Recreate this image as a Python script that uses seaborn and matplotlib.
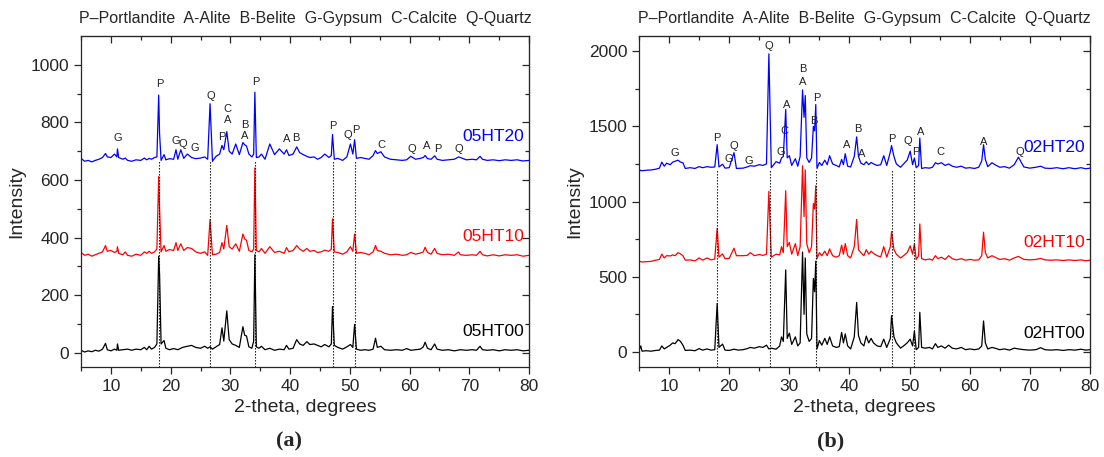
import matplotlib
matplotlib.use('Agg')
import matplotlib.pyplot as plt
import pandas as pd
import seaborn as sns

# XRD patterns: (2-theta, intensity) vertices of each trace
# Panel (a): 05 samples
a_ht00 = [(5.0, 8), (5.6, 2), (6.2, 6), (6.8, 3), (7.4, 8), (8.0, 5), (8.6, 12), (9.1, 32), (9.4, 10), (10.0, 6),
          (10.6, 12), (11.0, 8), (11.1, 30), (11.3, 8), (12.0, 10), (12.8, 12), (13.5, 8), (14.2, 12), (15.0, 10),
          (15.6, 18), (16.0, 10), (16.4, 22), (16.8, 12), (17.3, 18), (17.7, 30), (18.0, 335), (18.15, 270),
          (18.4, 30), (18.9, 42), (19.2, 15), (19.8, 10), (20.5, 14), (21.2, 10), (22.0, 18), (22.8, 22), (23.5, 25),
          (24.2, 18), (25.0, 15), (25.7, 22), (26.2, 15), (26.6, 20), (27.0, 12), (27.6, 20), (28.2, 28), (28.6, 86),
          (28.9, 40), (29.4, 145), (29.8, 45), (30.3, 30), (30.9, 25), (31.5, 18), (32.1, 90), (32.4, 60), (32.7, 58),
          (33.1, 20), (33.6, 15), (33.9, 40), (34.1, 340), (34.35, 20), (34.8, 15), (35.2, 22), (35.8, 10),
          (36.6, 15), (37.4, 8), (38.2, 12), (39.0, 10), (39.4, 25), (39.8, 12), (40.5, 15), (41.1, 45), (41.6, 30),
          (42.2, 25), (42.8, 38), (43.3, 28), (44.0, 30), (44.6, 25), (45.2, 20), (45.8, 28), (46.5, 20), (46.9, 30),
          (47.1, 160), (47.4, 25), (48.0, 18), (48.8, 12), (49.5, 20), (50.1, 28), (50.5, 18), (50.8, 98), (51.1, 12),
          (51.8, 8), (52.5, 10), (53.2, 8), (53.9, 12), (54.3, 50), (54.6, 18), (55.2, 22), (55.8, 10), (56.8, 8),
          (57.8, 10), (58.8, 8), (59.5, 14), (60.2, 8), (61.0, 10), (61.8, 12), (62.3, 20), (62.6, 36), (63.0, 15),
          (63.6, 10), (64.2, 30), (64.6, 12), (65.5, 8), (66.5, 10), (67.5, 6), (68.5, 10), (69.5, 8), (70.5, 10),
          (71.2, 8), (71.8, 22), (72.2, 10), (73.0, 8), (74.0, 10), (75.0, 6), (76.0, 10), (77.0, 8), (78.0, 10),
          (79.0, 6), (80.0, 8)]
a_ht10 = [(5.0, 348), (5.6, 338), (6.2, 342), (6.8, 335), (7.4, 340), (8.0, 345), (8.6, 350), (9.1, 372), (9.4, 352),
          (10.0, 355), (10.6, 348), (11.0, 352), (11.1, 368), (11.3, 345), (12.0, 340), (12.4, 350), (12.8, 338),
          (13.5, 335), (14.2, 342), (15.0, 338), (15.6, 350), (16.0, 345), (16.4, 352), (16.8, 345), (17.3, 350),
          (17.7, 360), (18.0, 612), (18.15, 500), (18.4, 350), (18.9, 372), (19.2, 352), (19.8, 358), (20.5, 355),
          (20.9, 382), (21.2, 355), (21.7, 378), (22.2, 355), (22.8, 365), (23.5, 362), (24.2, 350), (25.0, 345),
          (25.7, 350), (26.2, 338), (26.6, 462), (27.0, 340), (27.6, 342), (28.2, 348), (28.6, 382), (28.9, 360),
          (29.4, 442), (29.8, 368), (30.3, 360), (30.9, 378), (31.5, 352), (32.1, 412), (32.4, 395), (32.7, 390),
          (33.1, 355), (33.6, 350), (33.9, 360), (34.1, 642), (34.35, 355), (34.8, 350), (35.2, 362), (35.8, 345),
          (36.6, 368), (37.4, 348), (38.2, 352), (39.0, 345), (39.4, 365), (39.8, 350), (40.5, 355), (41.1, 372),
          (41.6, 360), (42.2, 352), (42.8, 362), (43.3, 352), (44.0, 355), (44.6, 348), (45.2, 350), (45.8, 356),
          (46.5, 352), (46.9, 360), (47.1, 465), (47.4, 350), (48.0, 348), (48.8, 342), (49.5, 350), (50.1, 368),
          (50.5, 352), (50.8, 412), (51.1, 345), (51.8, 348), (52.5, 345), (53.2, 340), (53.9, 350), (54.3, 372),
          (54.6, 355), (55.2, 352), (55.8, 345), (56.8, 340), (57.8, 342), (58.8, 338), (59.5, 340), (60.2, 348),
          (61.0, 342), (61.8, 346), (62.3, 350), (62.6, 366), (63.0, 348), (63.6, 342), (64.2, 362), (64.6, 345),
          (65.5, 340), (66.5, 342), (67.5, 338), (68.2, 350), (68.5, 340), (69.5, 338), (70.5, 340), (71.2, 338),
          (71.8, 352), (72.2, 340), (73.0, 336), (74.0, 340), (75.0, 336), (76.0, 340), (77.0, 338), (78.0, 340),
          (79.0, 335), (80.0, 338)]
a_ht20 = [(5.0, 675), (5.6, 665), (6.2, 668), (6.8, 663), (7.4, 668), (8.0, 672), (8.6, 678), (9.1, 692), (9.4, 680),
          (10.0, 678), (10.6, 690), (11.0, 680), (11.1, 708), (11.3, 678), (12.0, 672), (12.4, 676), (12.8, 668),
          (13.5, 665), (14.2, 670), (15.0, 668), (15.6, 676), (16.0, 670), (16.4, 675), (16.8, 672), (17.3, 678),
          (17.7, 680), (18.0, 895), (18.15, 760), (18.4, 668), (18.9, 688), (19.2, 670), (19.8, 674), (20.5, 672),
          (20.9, 705), (21.2, 672), (21.7, 705), (22.2, 675), (22.8, 690), (23.5, 678), (24.2, 674), (25.0, 676),
          (25.7, 680), (26.2, 672), (26.6, 865), (27.0, 665), (27.6, 682), (28.2, 690), (28.6, 720), (28.9, 705),
          (29.4, 768), (29.8, 700), (30.3, 690), (30.9, 725), (31.5, 688), (32.1, 730), (32.4, 722), (32.7, 718),
          (33.1, 690), (33.6, 680), (33.9, 690), (34.1, 905), (34.35, 678), (34.8, 680), (35.2, 690), (35.8, 672),
          (36.6, 725), (37.4, 688), (38.2, 708), (39.0, 690), (39.4, 705), (39.8, 685), (40.5, 690), (41.1, 715),
          (41.6, 695), (42.2, 688), (42.8, 682), (43.3, 678), (44.0, 680), (44.6, 672), (45.2, 678), (45.8, 690),
          (46.5, 678), (46.9, 685), (47.1, 758), (47.4, 672), (48.0, 675), (48.8, 668), (49.5, 680), (50.1, 725),
          (50.5, 690), (50.8, 740), (51.1, 675), (51.8, 678), (52.5, 675), (53.2, 672), (53.9, 685), (54.3, 702),
          (54.6, 692), (55.2, 698), (55.8, 680), (56.8, 672), (57.8, 670), (58.8, 668), (59.5, 670), (60.2, 682),
          (61.0, 672), (61.8, 675), (62.3, 678), (62.6, 685), (63.0, 674), (63.6, 672), (64.2, 684), (64.6, 672),
          (65.5, 668), (66.5, 670), (67.5, 672), (68.2, 680), (68.5, 678), (69.5, 670), (70.5, 672), (71.2, 670),
          (71.8, 682), (72.2, 672), (73.0, 668), (74.0, 670), (75.0, 667), (76.0, 670), (77.0, 668), (78.0, 670),
          (79.0, 666), (80.0, 668)]

# Panel (b): 02 samples
b_ht00 = [(5.0, 10), (5.3, 40), (5.5, 5), (6.2, 8), (7.0, 5), (7.8, 10), (8.4, 12), (8.8, 40), (9.2, 20), (9.6, 30),
          (10.2, 45), (10.6, 60), (11.0, 55), (11.5, 82), (11.9, 70), (12.3, 45), (12.7, 10), (13.5, 12), (14.3, 8),
          (15.0, 22), (15.6, 12), (16.3, 20), (17.0, 12), (17.6, 15), (18.0, 322), (18.3, 30), (18.9, 52), (19.3, 12),
          (20.0, 10), (20.8, 18), (21.5, 12), (22.3, 15), (23.0, 22), (23.5, 30), (24.2, 25), (25.0, 35), (25.6, 30),
          (26.2, 45), (26.6, 20), (27.0, 25), (27.8, 18), (28.4, 40), (28.7, 100), (29.0, 70), (29.4, 545),
          (29.65, 90), (30.0, 125), (30.4, 50), (31.0, 100), (31.4, 40), (31.8, 60), (32.2, 664), (32.45, 250),
          (32.65, 625), (32.9, 120), (33.3, 70), (33.7, 90), (34.0, 489), (34.2, 400), (34.4, 603), (34.6, 20),
          (35.0, 75), (35.4, 45), (35.9, 90), (36.3, 50), (36.7, 100), (37.2, 40), (37.8, 30), (38.3, 35),
          (38.7, 130), (39.0, 60), (39.3, 120), (39.7, 40), (40.2, 20), (40.8, 100), (41.2, 329), (41.5, 110),
          (41.9, 60), (42.4, 40), (42.8, 105), (43.2, 60), (43.6, 90), (44.0, 60), (44.6, 40), (45.2, 35), (45.7, 85),
          (46.2, 30), (46.8, 90), (47.0, 241), (47.4, 100), (47.8, 60), (48.5, 25), (49.0, 40), (49.6, 60),
          (50.1, 85), (50.5, 40), (50.8, 138), (51.1, 15), (51.5, 30), (51.7, 263), (52.0, 30), (52.6, 25),
          (53.3, 30), (53.8, 20), (54.3, 55), (54.7, 30), (55.3, 40), (55.9, 25), (56.5, 45), (57.1, 25), (57.8, 20),
          (58.6, 30), (59.3, 15), (60.0, 20), (60.8, 15), (61.5, 20), (62.0, 40), (62.3, 206), (62.6, 60), (63.0, 20),
          (63.7, 30), (64.2, 25), (65.0, 15), (65.8, 20), (66.6, 12), (67.4, 25), (68.1, 20), (69.0, 15), (70.0, 12),
          (71.0, 15), (71.8, 28), (72.5, 15), (73.5, 12), (74.5, 15), (75.5, 10), (76.5, 15), (77.5, 12), (78.5, 18),
          (79.3, 12), (80.0, 15)]
b_ht10 = [(5.0, 605), (5.3, 600), (5.5, 598), (6.2, 600), (7.0, 602), (7.8, 610), (8.4, 615), (8.8, 650), (9.2, 625),
          (9.6, 640), (10.2, 638), (10.6, 645), (11.0, 640), (11.5, 660), (11.9, 652), (12.3, 640), (12.7, 610),
          (13.5, 612), (14.3, 605), (15.0, 625), (15.6, 610), (16.3, 625), (17.0, 612), (17.6, 618), (18.0, 822),
          (18.3, 630), (18.9, 652), (19.3, 620), (20.0, 622), (20.8, 690), (21.2, 640), (22.3, 640), (23.0, 642),
          (23.5, 660), (24.2, 640), (25.0, 648), (25.6, 642), (26.2, 650), (26.6, 1068), (27.0, 630), (27.8, 650),
          (28.4, 645), (28.7, 700), (29.0, 660), (29.4, 1072), (29.65, 700), (30.0, 728), (30.4, 650), (31.0, 720),
          (31.4, 640), (31.8, 700), (32.2, 1238), (32.45, 900), (32.65, 1210), (32.9, 720), (33.3, 660), (33.7, 700),
          (34.0, 987), (34.2, 950), (34.4, 1105), (34.6, 620), (35.0, 660), (35.4, 640), (35.9, 670), (36.3, 640),
          (36.7, 685), (37.2, 640), (37.8, 630), (38.3, 640), (38.7, 710), (39.0, 650), (39.3, 720), (39.7, 640),
          (40.2, 625), (40.8, 700), (41.2, 881), (41.5, 680), (41.9, 660), (42.4, 640), (42.8, 680), (43.2, 650),
          (43.6, 670), (44.0, 655), (44.6, 640), (45.2, 632), (45.7, 700), (46.2, 630), (46.8, 700), (47.0, 800),
          (47.4, 680), (47.8, 650), (48.5, 625), (49.0, 640), (49.6, 660), (50.1, 705), (50.5, 650), (50.8, 720),
          (51.1, 615), (51.5, 640), (51.7, 851), (52.0, 620), (52.6, 612), (53.3, 618), (53.8, 610), (54.3, 640),
          (54.7, 620), (55.3, 630), (55.9, 615), (56.5, 640), (57.1, 620), (57.8, 612), (58.6, 620), (59.3, 610),
          (60.0, 615), (60.8, 610), (61.5, 612), (62.0, 640), (62.3, 796), (62.6, 660), (63.0, 625), (63.7, 640),
          (64.2, 630), (65.0, 615), (65.8, 620), (66.6, 610), (67.4, 625), (68.1, 635), (69.0, 615), (70.0, 612),
          (71.0, 615), (71.8, 622), (72.5, 612), (73.5, 610), (74.5, 612), (75.5, 608), (76.5, 612), (77.5, 608),
          (78.5, 612), (79.3, 606), (80.0, 610)]
b_ht20 = [(5.0, 1215), (5.3, 1205), (5.5, 1205), (6.2, 1208), (7.0, 1210), (7.8, 1215), (8.4, 1222), (8.8, 1262),
          (9.2, 1235), (9.6, 1255), (10.2, 1245), (10.6, 1262), (11.0, 1268), (11.5, 1275), (11.9, 1262), (12.3, 1258),
          (12.7, 1220), (13.5, 1225), (14.3, 1220), (15.0, 1232), (15.6, 1225), (16.3, 1232), (17.0, 1228),
          (17.6, 1230), (18.0, 1378), (18.3, 1230), (18.9, 1248), (19.3, 1222), (20.0, 1225), (20.8, 1325),
          (21.2, 1220), (22.3, 1222), (23.0, 1230), (23.5, 1238), (24.2, 1235), (25.0, 1245), (25.6, 1240),
          (26.2, 1250), (26.6, 1982), (27.0, 1225), (27.8, 1265), (28.4, 1255), (28.7, 1290), (29.0, 1300),
          (29.4, 1612), (29.65, 1290), (30.0, 1305), (30.4, 1240), (31.0, 1285), (31.4, 1235), (31.8, 1300),
          (32.2, 1742), (32.45, 1560), (32.65, 1705), (32.9, 1290), (33.3, 1260), (33.7, 1290), (34.0, 1500),
          (34.2, 1470), (34.4, 1645), (34.6, 1220), (35.0, 1260), (35.4, 1240), (35.9, 1275), (36.3, 1245),
          (36.7, 1305), (37.2, 1250), (37.8, 1240), (38.3, 1230), (38.7, 1280), (39.0, 1245), (39.3, 1318),
          (39.7, 1235), (40.2, 1230), (40.8, 1300), (41.2, 1430), (41.5, 1300), (41.9, 1255), (42.4, 1245),
          (42.8, 1265), (43.2, 1245), (43.6, 1260), (44.0, 1250), (44.6, 1240), (45.2, 1245), (45.7, 1305),
          (46.2, 1240), (46.8, 1330), (47.0, 1372), (47.4, 1300), (47.8, 1250), (48.5, 1228), (49.0, 1250),
          (49.6, 1275), (50.1, 1335), (50.5, 1245), (50.8, 1290), (51.1, 1225), (51.5, 1240), (51.7, 1422),
          (52.0, 1220), (52.6, 1225), (53.3, 1222), (53.8, 1228), (54.3, 1258), (54.7, 1250), (55.3, 1258),
          (55.9, 1240), (56.5, 1250), (57.1, 1235), (57.8, 1228), (58.6, 1235), (59.3, 1222), (60.0, 1225),
          (60.8, 1220), (61.5, 1228), (62.0, 1270), (62.3, 1378), (62.6, 1280), (63.0, 1232), (63.7, 1258),
          (64.2, 1245), (65.0, 1228), (65.8, 1232), (66.6, 1222), (67.4, 1245), (68.1, 1295), (69.0, 1230),
          (70.0, 1222), (71.0, 1228), (71.8, 1235), (72.5, 1222), (73.5, 1220), (74.5, 1225), (75.5, 1218),
          (76.5, 1225), (77.5, 1218), (78.5, 1225), (79.3, 1218), (80.0, 1222)]

# phase letters above the peaks (2-theta, intensity, letter)
a_peaks = [(11.2, 746, 'G'), (18.2, 933, 'P'), (20.8, 734, 'G'), (22.1, 726, 'Q'), (24.0, 711, 'G'),
           (26.7, 892, 'Q'), (28.5, 748, 'P'), (29.5, 846, 'C'), (29.5, 808, 'A'), (32.4, 792, 'B'),
           (32.4, 752, 'A'), (34.2, 942, 'P'), (39.5, 742, 'A'), (41.0, 746, 'B'), (47.2, 786, 'P'),
           (49.6, 755, 'Q'), (51.0, 775, 'P'), (55.3, 723, 'C'), (60.4, 708, 'Q'), (62.8, 717, 'A'),
           (64.7, 708, 'P'), (68.2, 708, 'Q')]
b_peaks = [(11.0, 1323, 'G'), (18.0, 1421, 'P'), (19.9, 1282, 'G'), (20.7, 1369, 'Q'), (23.3, 1269, 'G'),
           (26.6, 2033, 'Q'), (28.6, 1330, 'G'), (29.2, 1472, 'C'), (29.6, 1640, 'A'), (32.2, 1880, 'B'),
           (32.2, 1796, 'A'), (34.5, 1690, 'P'), (34.0, 1537, 'B'), (39.5, 1378, 'A'), (41.4, 1483, 'B'),
           (42.1, 1314, 'A'), (47.0, 1417, 'P'), (49.7, 1405, 'Q'), (51.0, 1332, 'P'), (51.8, 1465, 'A'),
           (55.2, 1330, 'C'), (62.4, 1397, 'A'), (68.3, 1330, 'Q')]

# Portlandite / quartz reference lines
a_refs = [18.1, 26.6, 34.1, 47.1, 50.8]
b_refs = [18.0, 26.8, 34.4, 47.1, 50.8]

a_names = ['05HT00', '05HT10', '05HT20']
b_names = ['02HT00', '02HT10', '02HT20']
a_name_y = [72, 405, 752]
b_name_y = [125, 730, 1362]
colors = ['black', '#ff0000', '#0000ff']

header = 'P\u2013Portlandite  A-Alite  B-Belite  G-Gypsum  C-Calcite  Q-Quartz'

sns.set_style('ticks')
plt.rcParams['font.family'] = ['Liberation Sans', 'DejaVu Sans']


def to_frame(series, names):
    rows = []
    for pts, name in zip(series, names):
        for x, y in pts:
            rows.append({'theta': x, 'intensity': y, 'sample': name})
    return pd.DataFrame(rows)


def draw_panel(ax, df, names, name_y, peaks, refs, ref_top, ylim, major, minor):
    sns.lineplot(data=df, x='theta', y='intensity', hue='sample', hue_order=names,
                 palette=colors, estimator=None, sort=False, linewidth=0.9, legend=False, ax=ax)
    ax.vlines(refs, ylim[0], ref_top, colors='black', linestyles=(0, (1.2, 1.5)), linewidth=0.8, zorder=3)
    for x, y, s in peaks:
        ax.text(x, y, s, ha='center', va='center', fontsize=8, color='#222222')
    for name, y, c in zip(names, name_y, colors):
        ax.text(79.2, y, name, ha='right', va='center', fontsize=12.5, color=c)
    ax.set_xlim(5, 80)
    ax.set_ylim(*ylim)
    xt, xm = list(range(10, 81, 10)), list(range(5, 81, 5))
    yt, ym = list(range(0, ylim[1], major)), list(range(0, ylim[1], minor))
    ax.set_xticks(xt)
    ax.set_xticks(xm, minor=True)
    ax.set_yticks(yt)
    ax.set_yticks(ym, minor=True)
    ax.set_xlabel('2-theta, degrees', fontsize=14)
    ax.set_ylabel('Intensity', fontsize=14)
    ax.tick_params(axis='both', which='major', labelsize=12.5, length=5, width=0.9, direction='out')
    ax.tick_params(axis='both', which='minor', length=3, width=0.9, direction='out')
    # mirrored ticks pointing inwards on top and right
    top = ax.secondary_xaxis('top')
    top.set_xticks(xt)
    top.set_xticks(xm, minor=True)
    top.tick_params(which='major', direction='in', length=5, width=0.9, labeltop=False)
    top.tick_params(which='minor', direction='in', length=3, width=0.9)
    right = ax.secondary_yaxis('right')
    right.set_yticks(yt)
    right.set_yticks(ym, minor=True)
    right.tick_params(which='major', direction='in', length=5, width=0.9, labelright=False)
    right.tick_params(which='minor', direction='in', length=3, width=0.9)
    for sp in ax.spines.values():
        sp.set_linewidth(0.9)
    ax.text(0.5, 1.03, header, transform=ax.transAxes, ha='center', va='bottom', fontsize=11.5)


fig = plt.figure(figsize=(11.04, 4.57), dpi=100)
ax1 = fig.add_axes([0.0734, 0.197, 0.4058, 0.724])
ax2 = fig.add_axes([0.5788, 0.197, 0.4085, 0.724])

draw_panel(ax1, to_frame([a_ht00, a_ht10, a_ht20], a_names), a_names, a_name_y, a_peaks,
           a_refs, 665, (-50, 1100), 200, 100)
draw_panel(ax2, to_frame([b_ht00, b_ht10, b_ht20], b_names), b_names, b_name_y, b_peaks,
           b_refs, 1210, (-100, 2100), 500, 250)

fig.text(0.262, 0.035, '(a)', ha='center', va='center', fontsize=16, fontweight='bold',
         family=['Liberation Serif', 'DejaVu Serif'])
fig.text(0.752, 0.035, '(b)', ha='center', va='center', fontsize=16, fontweight='bold',
         family=['Liberation Serif', 'DejaVu Serif'])

fig.savefig('out.png', dpi=100, facecolor='white')
